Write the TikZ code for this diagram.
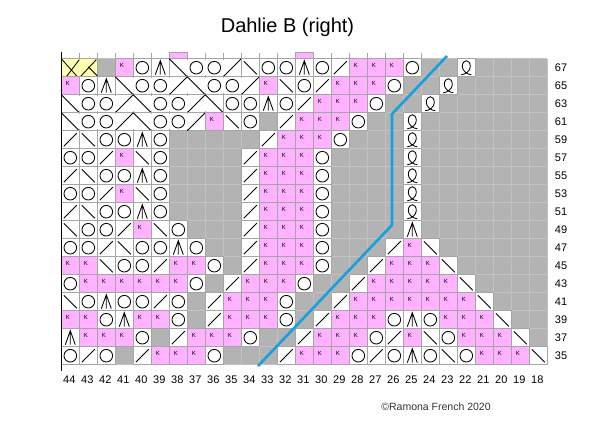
\documentclass[tikz,border=0pt]{standalone}
\usepackage{fontspec}
\setmainfont{Liberation Sans}
\usepackage{tikz}
\usetikzlibrary{positioning}

\definecolor{nostitch}{RGB}{179,179,179}
\definecolor{faintline}{RGB}{194,194,194}
\definecolor{cellline}{RGB}{165,165,165}
\definecolor{knitpink}{RGB}{255,178,255}
\definecolor{cablecream}{RGB}{255,255,178}
\definecolor{repeatblue}{RGB}{22,160,222}

% one entry per charted row, columns 44 ... 18
\newcommand\chartrows{%
  67/{x,n,g,k,o,a,R,o,o,L,r,o,o,a,o,l,k,k,k,o,g,g,q,g,g,g,g},
  65/{k,o,a,R,o,o,L,R,o,o,L,k,r,o,l,k,k,k,o,g,g,q,g,g,g,g,g},
  63/{R,o,o,L,R,o,o,L,R,o,o,a,o,l,k,k,k,o,g,g,q,g,g,g,g,g,g},
  61/{R,o,o,L,R,o,o,L,k,r,o,g,l,k,k,k,o,g,g,q,g,g,g,g,g,g,g},
  59/{l,r,o,o,a,o,g,g,g,g,g,l,k,k,k,o,g,g,g,q,g,g,g,g,g,g,g},
  57/{o,o,l,k,r,o,g,g,g,g,l,k,k,k,o,g,g,g,g,q,g,g,g,g,g,g,g},
  55/{l,r,o,o,a,o,g,g,g,g,l,k,k,k,o,g,g,g,g,q,g,g,g,g,g,g,g},
  53/{o,o,l,k,r,o,g,g,g,g,l,k,k,k,o,g,g,g,g,q,g,g,g,g,g,g,g},
  51/{l,r,o,o,a,o,g,g,g,g,l,k,k,k,o,g,g,g,g,q,g,g,g,g,g,g,g},
  49/{r,o,o,l,k,r,o,g,g,g,l,k,k,k,o,g,g,g,g,a,g,g,g,g,g,g,g},
  47/{o,o,l,r,o,o,a,o,g,g,l,k,k,k,o,g,g,g,l,k,r,g,g,g,g,g,g},
  45/{k,k,r,o,o,l,k,k,o,g,l,k,k,k,o,g,g,l,k,k,k,r,g,g,g,g,g},
  43/{o,k,k,k,k,k,k,o,g,l,k,k,k,o,g,g,l,k,k,k,k,k,r,g,g,g,g},
  41/{r,o,a,o,o,l,o,g,l,k,k,k,o,g,g,l,k,k,k,k,k,k,k,r,g,g,g},
  39/{k,k,o,a,k,k,o,g,l,k,k,k,o,g,l,k,k,k,o,a,o,k,k,k,r,g,g},
  37/{a,k,k,k,o,g,l,k,k,k,o,g,g,l,k,k,k,o,l,k,r,o,k,k,k,r,g},
  35/{o,l,o,g,l,k,k,k,o,g,g,g,l,k,k,k,o,l,o,a,o,r,o,k,k,k,r}}

\begin{document}
\begin{tikzpicture}[x=1pt,y=-1pt,
    cell/.style={draw=cellline,line width=0.6pt},
    sym/.style={draw=black,line width=0.85pt},
    klet/.style={font=\fontsize{6}{6}\selectfont,inner sep=0pt},
    lab/.style={font=\fontsize{11}{12}\selectfont,inner sep=0pt},
    pics/st-g/.code={},
    pics/st-n/.code={},
    pics/st-k/.code={\path[cell,fill=knitpink] (-9,-9) rectangle (9,9);
      \node[klet] (kl) at (-2.5,-2) {K};},
    pics/st-o/.code={\path[cell,fill=white] (-9,-9) rectangle (9,9);
      \draw[sym] (0,0) circle[radius=6.3];},
    pics/st-l/.code={\path[cell,fill=white] (-9,-9) rectangle (9,9);
      \draw[sym] (-6.5,6.5) -- (6.5,-6.5);},
    pics/st-r/.code={\path[cell,fill=white] (-9,-9) rectangle (9,9);
      \draw[sym] (-6.5,-6.5) -- (6.5,6.5);},
    pics/st-L/.code={\path[cell,fill=white] (-9,-9) rectangle (9,9);
      \draw[sym] (-9,9) -- (9,-9);},
    pics/st-R/.code={\path[cell,fill=white] (-9,-9) rectangle (9,9);
      \draw[sym] (-9,-9) -- (9,9);},
    pics/st-a/.code={\path[cell,fill=white] (-9,-9) rectangle (9,9);
      \draw[sym] (-5,7) -- (0,-7) -- (5,7) (0,-7) -- (0,7);},
    pics/st-q/.code={\path[cell,fill=white] (-9,-9) rectangle (9,9);
      \draw[sym] (-5,7) .. controls (-1,7) and (4,3) .. (4,-1)
        .. controls (4,-5) and (2,-7) .. (0,-7)
        .. controls (-2,-7) and (-4,-5) .. (-4,-1)
        .. controls (-4,3) and (1,7) .. (5,7);},
    pics/st-x/.code={\path[cell,fill=cablecream] (-9,-9) rectangle (27,9);
      \draw[sym] (-9,-9) -- (7,9) (-4,9) -- (9,-8)
        (10,9) -- (26,-8) (18,-1) -- (27,8);}
]
\useasboundingbox (0,0) rectangle (613,432);

\node[font=\fontsize{20}{24}\selectfont,inner sep=0pt] (title) at (287.5,27) {Dahlie B (right)};

% background and faint grid
\fill[nostitch] (61.3,58.7) rectangle (547.3,364.7);
\foreach \i in {0,...,27}
  \draw[faintline,line width=0.6pt] ({61.3+18*\i},58.7) -- ++(0,306);
\foreach \j in {0,...,17}
  \draw[faintline,line width=0.6pt] (61.3,{58.7+18*\j}) -- ++(486,0);

% cut-off row above 67
\foreach \i in {0,...,20}
  \draw[cellline,line width=0.6pt] ({61.3+18*\i},52.5) -- ++(0,6.2);
\path[cell,fill=knitpink] (169.3,52.5) rectangle (187.3,58.7);
\path[cell,fill=knitpink] (295.3,52.5) rectangle (313.3,58.7);

\foreach \rw/\cells [count=\j] in \chartrows {
  \foreach \c [count=\i] in \cells {
    \begin{scope}[shift={({52.3+18*\i},{49.7+18*\j})}]
      \pic {st-\c};
    \end{scope}
  }
  \node[lab] (row\rw) at (561,{49.7+18*\j}) {\rw};
}

% open lace rows without cell walls
\foreach \j/\from/\to in {1/7/9,2/4/10,3/1/8,4/1/7}
  \foreach \i in {\from,...,\to}
    \draw[white,line width=1.1pt] ({61.3+18*\i},{58.7+18*(\j-1)+1.5}) -- ++(0,15);

\draw[black,line width=1pt] (61.3,52) -- (61.3,371);

\foreach \n [count=\i] in {44,43,...,18}
  \node[lab] (col\n) at ({51.3+18*\i},380) {\n};

\coordinate (rb1) at (258,366);
\coordinate (rb2) at (392,225);
\coordinate (rb3) at (392,114);
\coordinate (rb4) at (447,56);
\draw[repeatblue,line width=2.6pt] (rb1) -- (rb2) -- (rb3) -- (rb4);

\node[font=\fontsize{10.5}{12}\selectfont,text=black!80,inner sep=0pt] (credit) at (436,407) {©Ramona French 2020};
\end{tikzpicture}
\end{document}
